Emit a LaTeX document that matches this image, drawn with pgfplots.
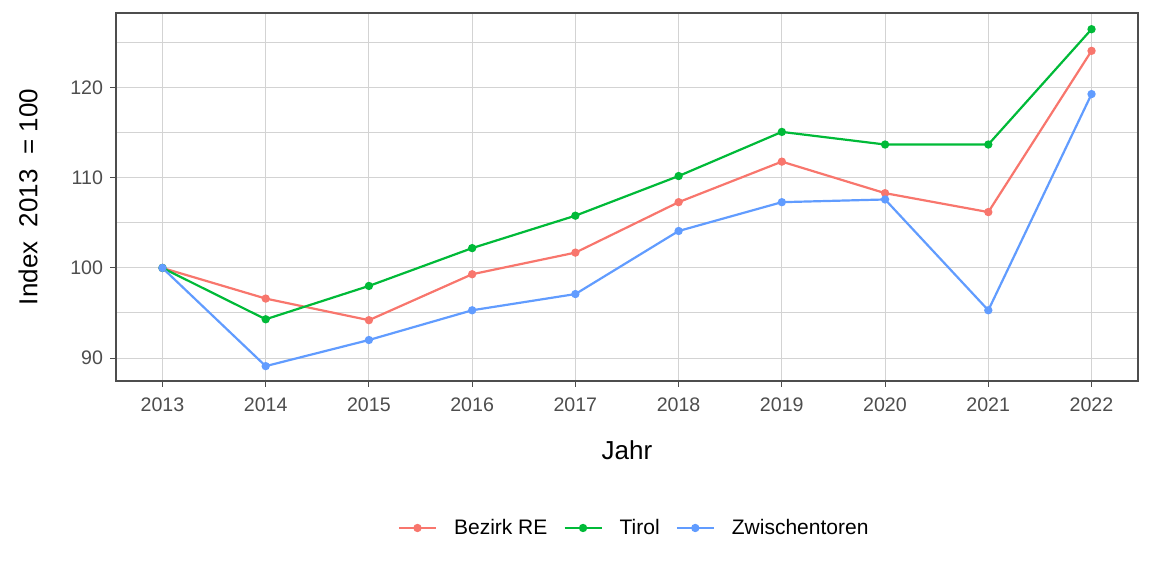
\documentclass[border=0pt]{standalone}
\usepackage{pgfplots}
\pgfplotsset{compat=1.18}
\usepackage{fontspec}
\setmainfont{Liberation Sans}
\definecolor{cR}{HTML}{F8766D}
\definecolor{cG}{HTML}{00BA38}
\definecolor{cB}{HTML}{619CFF}
\definecolor{gridc}{HTML}{D3D3D3}
\definecolor{tickc}{HTML}{4D4D4D}
\definecolor{framec}{HTML}{4D4D4D}
\begin{document}
\begin{tikzpicture}
\path[use as bounding box] (-58pt,-97.5pt) rectangle (518pt,190.5pt);
\begin{axis}[
  at={(0pt,0pt)}, anchor=south west,
  scale only axis, width=511pt, height=184pt,
  xmin=2012.55, xmax=2022.45, ymin=87.45, ymax=128.3,
  xtick={2013,...,2022},
  ytick={90,100,110,120},
  minor ytick={95,105,115,125},
  xtick pos=bottom, ytick pos=left,
  xticklabel style={/pgf/number format/1000 sep={}},
  /pgf/number format/assume math mode=true,
  ticklabel style={font=\fontsize{9.8}{11}\selectfont, text=tickc},
  xticklabel style={yshift=-2pt},
  grid=both,
  major grid style={gridc, line width=0.5pt},
  minor grid style={gridc, line width=0.5pt},
  axis line style={framec, line width=0.7pt},
  tick style={framec, line width=0.5pt},
  tick align=outside, major tick length=3pt, minor tick length=0pt,
  xlabel={Jahr}, ylabel={Index\ \ 2013\ \ = 100},
  label style={font=\fontsize{13}{15}\selectfont},
  xlabel style={at={(axis description cs:0.5,0)}, anchor=center, yshift=-34.5pt},
  ylabel style={at={(axis description cs:0,0.5)}, anchor=center, yshift=44pt},
  every axis plot/.append style={line width=1.1pt, mark=*, mark size=1.5pt},
  legend columns=3,
  legend style={at={(axis description cs:0.508,0)}, anchor=center, yshift=-73.5pt, draw=none, fill=none,
    font=\fontsize{10.5}{12}\selectfont,
    /tikz/every odd column/.style={column sep=6.5pt},
    /tikz/every even column/.style={column sep=6pt}},
  legend image code/.code={\draw[#1, line width=1.1pt] (0pt,0pt) -- (18.5pt,0pt); \fill[#1] (9.25pt,0pt) circle (1.5pt);},
  legend cell align=left,
]
\addplot[cR] coordinates {(2013,100) (2014,96.6) (2015,94.2) (2016,99.3) (2017,101.7) (2018,107.3) (2019,111.8) (2020,108.3) (2021,106.2) (2022,124.1)};
\addlegendentry{Bezirk RE}
\addplot[cG] coordinates {(2013,100) (2014,94.3) (2015,98.0) (2016,102.2) (2017,105.8) (2018,110.2) (2019,115.1) (2020,113.7) (2021,113.7) (2022,126.5)};
\addlegendentry{Tirol}
\addplot[cB] coordinates {(2013,100) (2014,89.1) (2015,92.0) (2016,95.3) (2017,97.1) (2018,104.1) (2019,107.3) (2020,107.6) (2021,95.3) (2022,119.3)};
\addlegendentry{Zwischentoren}
\end{axis}
\end{tikzpicture}
\end{document}
